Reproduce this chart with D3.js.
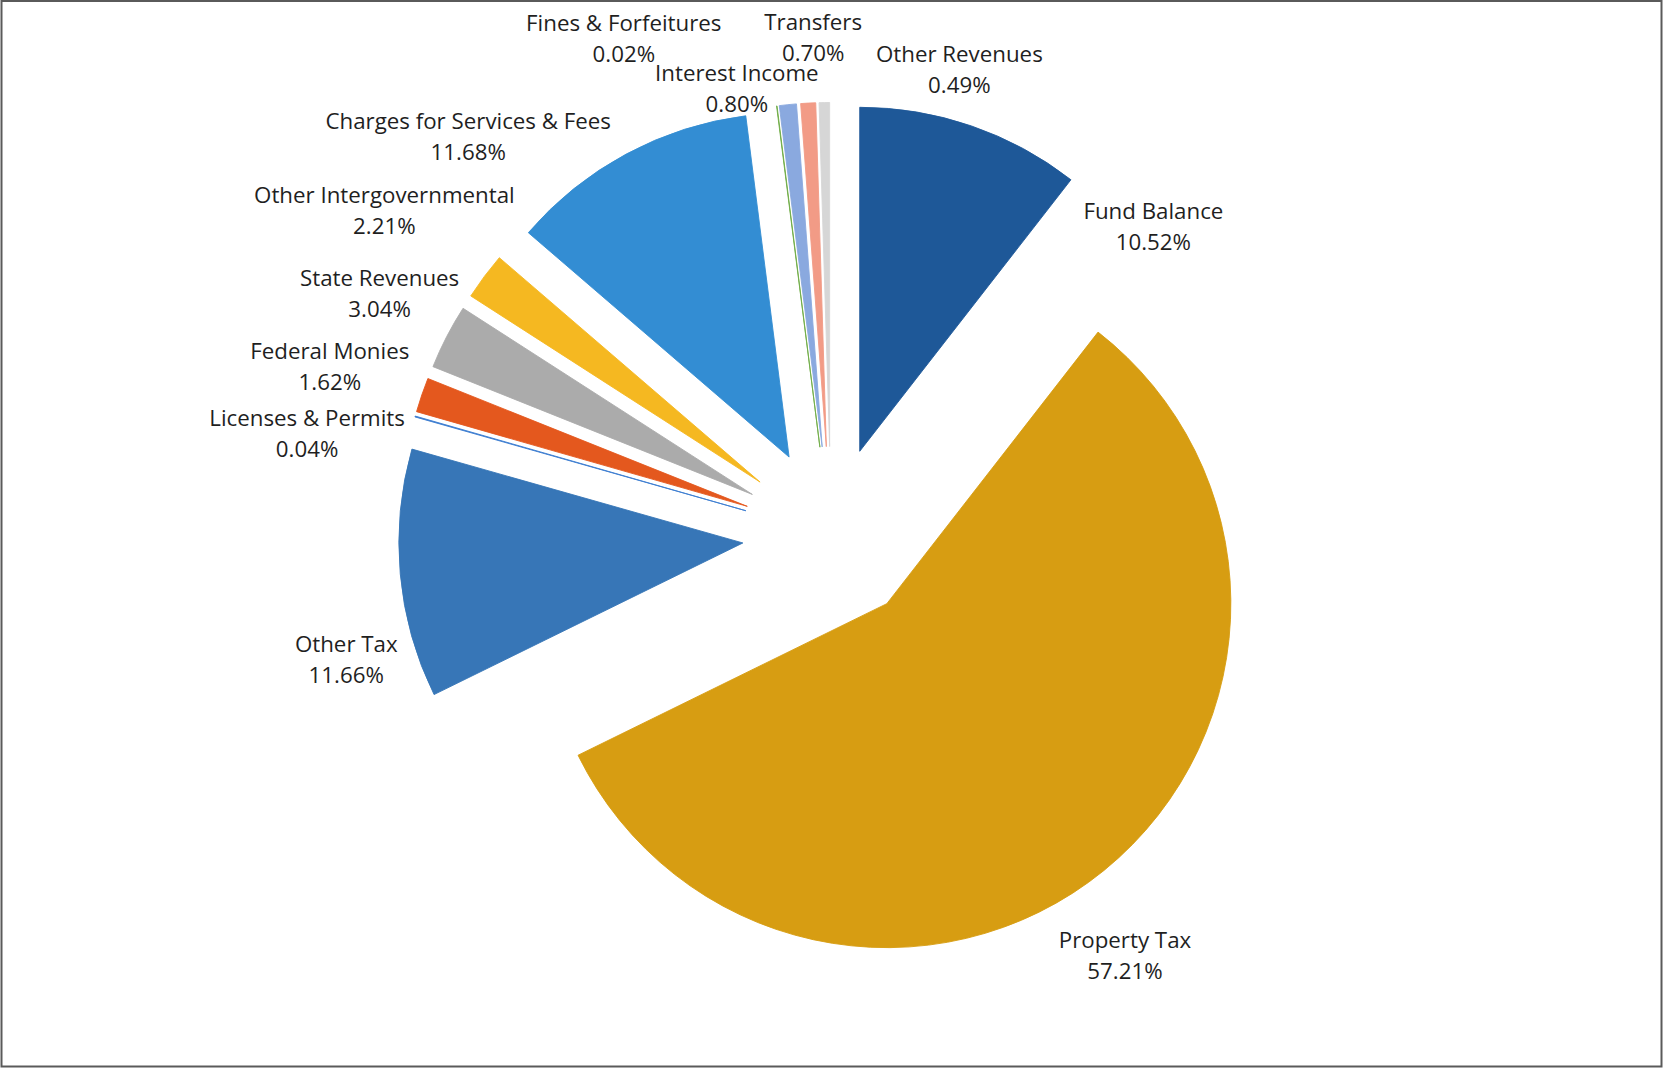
<!DOCTYPE html>
<html>
<head>
<meta charset="utf-8">
<script src="https://cdn.jsdelivr.net/npm/d3@7"></script>
<style>
  html, body { margin: 0; padding: 0; background: #fff; }
  svg { display: block; }
</style>
</head>
<body>
<div id="chart"></div>
<script>
// Revenue sources, in pie order (clockwise from 12 o'clock)
const categories = [
  "Fund Balance", "Property Tax", "Other Tax", "Licenses & Permits",
  "Federal Monies", "State Revenues", "Other Intergovernmental",
  "Charges for Services & Fees", "Fines & Forfeitures", "Interest Income",
  "Transfers", "Other Revenues"
];
const shares = [10.52, 57.21, 11.66, 0.04, 1.62, 3.04, 2.21, 11.68, 0.02, 0.80, 0.70, 0.49];
const colors = [
  "#1e5898", "#d79d12", "#3776b7", "#3c7dd0",
  "#e4581e", "#ababab", "#f5b821", "#338dd3",
  "#70ad47", "#8aa9df", "#f29b86", "#d6d6d6"
];
// Label block offsets from the outer edge of each exploded slice (along its bisector)
const labelOffsets = [
  [182, 101], [21, 85], [-54, 86], [-108, 17],
  [-92, -28], [-67, -43], [-100, -66], [-158, -18],
  [-153, -67], [-51, -16], [5, -66], [135, -33]
];

const W = 1663, H = 1068;
const cx = 831, cy = 535;
const radius = 344;
const explode = 88.5;
const lineGap = 31;

const svg = d3.select("#chart").append("svg")
  .attr("width", W).attr("height", H);

svg.append("rect")
  .attr("x", 1.5).attr("y", 1).attr("width", W - 3).attr("height", H - 2.5)
  .attr("fill", "#fff").attr("stroke", "#5a5a5a").attr("stroke-width", 2);

const data = categories.map((c, i) => ({ name: c, value: shares[i], color: colors[i], off: labelOffsets[i] }));

const pie = d3.pie().sort(null).value(d => d.value).startAngle(0).endAngle(2 * Math.PI);
const arc = d3.arc().innerRadius(0).outerRadius(radius);
const arcs = pie(data);

const g = svg.append("g").attr("transform", `translate(${cx},${cy})`);

const mid = a => (a.startAngle + a.endAngle) / 2;
const dir = a => [Math.sin(mid(a)), -Math.cos(mid(a))];

g.selectAll("path.slice")
  .data(arcs)
  .join("path")
  .attr("class", "slice")
  .attr("d", arc)
  .attr("transform", a => { const [ux, uy] = dir(a); return `translate(${ux * explode},${uy * explode})`; })
  .attr("fill", a => a.data.color)
  .attr("stroke", a => a.data.color)
  .attr("stroke-width", 0.9)
  .attr("stroke-linejoin", "miter");

const labels = g.selectAll("text.lbl")
  .data(arcs)
  .join("text")
  .attr("class", "lbl")
  .attr("text-anchor", "middle")
  .attr("font-family", "'Open Sans', 'Noto Sans', sans-serif")
  .attr("font-size", 22.3)
  .attr("fill", "#1f1f1f")
  .attr("transform", a => {
    const [ux, uy] = dir(a);
    const x = ux * (explode + radius) + a.data.off[0];
    const y = uy * (explode + radius) + a.data.off[1];
    return `translate(${x},${y})`;
  });

labels.append("tspan")
  .attr("x", 0).attr("y", -lineGap / 2).attr("dy", "0.36em")
  .text(a => a.data.name);
labels.append("tspan")
  .attr("x", 0).attr("y", lineGap / 2).attr("dy", "0.36em")
  .text(a => a.data.value.toFixed(2) + "%");
</script>
</body>
</html>
